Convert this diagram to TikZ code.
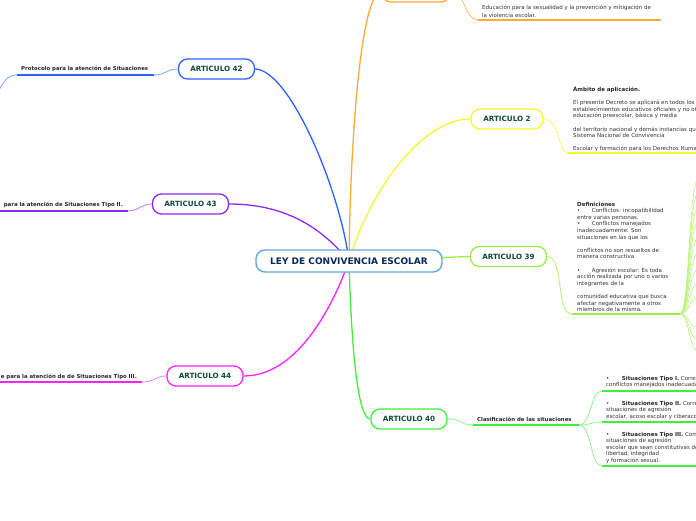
\documentclass[tikz,border=0pt]{standalone}
\usepackage{fontspec}
\newfontfamily\dv{DejaVu Sans}
\usetikzlibrary{backgrounds}
\definecolor{cblue}{HTML}{2E62FF}
\definecolor{cpurple}{HTML}{8A2BF5}
\definecolor{cmag}{HTML}{FF22FF}
\definecolor{cgreen}{HTML}{3CF03C}
\definecolor{clime}{HTML}{99EE44}
\definecolor{cyellow}{HTML}{F5F530}
\definecolor{corange}{HTML}{FFAA33}
\definecolor{cleyb}{HTML}{62A6DE}
\definecolor{artext}{HTML}{0E4A3A}
\definecolor{leytext}{HTML}{0B2755}
\definecolor{bodytext}{HTML}{333333}
\begin{document}
\begin{tikzpicture}[x=1pt,y=-1pt,
  artbox/.style={rounded corners=9pt, line width=1.3pt, fill=white, minimum width=76pt, minimum height=20pt, inner sep=0pt, font=\dv\bfseries\fontsize{7.2}{8}\selectfont, text=artext},
  branch/.style={line width=1.3pt},
  twig/.style={line width=0.9pt},
  uline/.style={line width=2.4pt},
  lbl/.style={font=\dv\bfseries\fontsize{5.4}{6.6}\selectfont, text=black!85, inner sep=0pt},
  txt/.style={font=\dv\fontsize{5.5}{6.6}\selectfont, text=bodytext, inner sep=0pt, align=left},
  fan/.style={line width=0.6pt, draw=clime!70}
]
\useasboundingbox (0,0) rectangle (696,520);
\begin{scope}
\clip (0,0) rectangle (696,520);
% central node
\node[draw=cleyb, rounded corners=9pt, line width=1.4pt, fill=white, minimum width=186pt, minimum height=22pt, inner sep=0pt, font=\dv\bfseries\fontsize{9}{10}\selectfont, text=leytext] (ley) at (349,261) {LEY DE CONVIVENCIA ESCOLAR};
% article boxes
\node[artbox, draw=cblue] (a42) at (216.5,69) {ARTICULO 42};
\node[artbox, draw=cpurple] (a43) at (190.5,204) {ARTICULO 43};
\node[artbox, draw=cmag] (a44) at (205,376) {ARTICULO 44};
\node[artbox, draw=cgreen] (a40) at (409,419) {ARTICULO 40};
\node[artbox, draw=clime] (a39) at (508.5,256.5) {ARTICULO 39};
\node[artbox, draw=cyellow, minimum width=72pt] (a2) at (507,119) {ARTICULO 2};
\node[artbox, draw=corange, minimum width=68pt] (aor) at (416,-8) {};
% coordinates
\coordinate (u42e) at (154,75);  \coordinate (u42w) at (17,75); \coordinate (u42x) at (-4,96);
\coordinate (u43e) at (128,211); \coordinate (u43w) at (-5,211);
\coordinate (u44e) at (142,382); \coordinate (u44w) at (-5,382);
\coordinate (u40w) at (473,425); \coordinate (u40e) at (579,425);
\coordinate (t1w) at (602,391); \coordinate (t1e) at (700,391);
\coordinate (t2w) at (602,422); \coordinate (t2e) at (700,422);
\coordinate (t3w) at (602,466); \coordinate (t3e) at (700,466);
\coordinate (u39w) at (572,314); \coordinate (u39e) at (680,314);
\coordinate (u2w) at (568,153); \coordinate (u2e) at (700,153);
\coordinate (uorw) at (478,20); \coordinate (uore) at (661,20);
% texts
\node[lbl, anchor=base west] (p42) at (21,70.5) {Protocolo para la atención de Situaciones};
\node[lbl, anchor=base east] (p43) at (123,206.5) {para la atención de Situaciones Tipo II.};
\node[lbl, anchor=base east] (p44) at (137,378.5) {e para la atención de de Situaciones Tipo III.};
\node[lbl, anchor=base west] (p40) at (477,421) {Clasificación de las situaciones};
\node[txt, anchor=north west] (tt1) at (606,375.2) {\strut•\hspace{12.5pt}\textbf{\color{black!85}Situaciones Tipo I.} Corresponden a este tipo los\\conflictos manejados inadecuadamente y aquellas};
\node[txt, anchor=north west] (tt2) at (606,400.2) {\strut•\hspace{12.5pt}\textbf{\color{black!85}Situaciones Tipo II.} Corresponden a este tipo las\\situaciones de agresión\\escolar, acoso escolar y ciberacoso (ciberbullying)};
\node[txt, anchor=north west] (tt3) at (606,431.2) {\strut•\hspace{12.5pt}\textbf{\color{black!85}Situaciones Tipo III.} Corresponden a este tipo las\\situaciones de agresión\\escolar que sean constitutivas de presuntos delitos contra la\\libertad, integridad\\y formación sexual.};
\node[txt, anchor=north west] (def) at (577,201.2) {\strut\textbf{\color{black!85}Definiciones}\\
•\hspace{11.5pt}Conflictos: incopatibilidad\\
entre varias personas.\\
•\hspace{11.5pt}Conflictos manejados\\
inadecuadamente: Son\\
situaciones en las que los\\
~\\
conflictos no son resueltos de\\
manera constructiva\\
~\\
•\hspace{11.5pt}Agresión escolar: Es toda\\
acción realizada por uno o varios\\
integrantes de la\\
~\\
comunidad educativa que busca\\
afectar negativamente a otros\\
miembros de la misma.};
\node[txt, anchor=north west] (amb) at (573,86.2) {\strut\textbf{\color{black!85}Ámbito de aplicación.}\\
~\\
El presente Decreto se aplicará en todos los\\
establecimientos educativos oficiales y no oficiales de\\
educación preescolar, básica y media\\
~\\
del territorio nacional y demás instancias que conforman el\\
Sistema Nacional de Convivencia\\
~\\
Escolar y formación para los Derechos Humanos, la};
\node[txt, anchor=north west, font=\dv\fontsize{5.5}{7.6}\selectfont] (edu) at (482,4.2) {\strut Educación para la sexualidad y la prevención y mitigación de\\la violencia escolar.};
\end{scope}
\begin{scope}[on background layer]
\clip (0,0) rectangle (696,520);
% main branches
\draw[branch, cblue] (a42.east) .. controls (290,70) and (340,190) .. (ley.center);
\draw[branch, cpurple] (a43.east) .. controls (290,204) and (325,232) .. (ley.center);
\draw[branch, cmag] (ley.center) .. controls (335,300) and (300,376) .. (a44.east);
\draw[branch, cgreen] (ley.center) .. controls (351,330) and (356,419) .. (a40.west);
\draw[branch, clime] (ley.center) -- (a39.west);
\draw[branch, cyellow] (ley.center) .. controls (368,195) and (420,119) .. (a2.west);
\draw[branch, corange] (ley.center) .. controls (350,150) and (360,-8) .. (aor.west);
% twigs
\draw[twig, cblue!55] (a42.west) .. controls (166,69) and (166,75) .. (u42e);
\draw[twig, cblue!55] (u42w) .. controls (8,75) and (4,80) .. (u42x);
\draw[twig, cpurple!55] (a43.west) .. controls (140,204) and (140,211) .. (u43e);
\draw[twig, cmag!55] (a44.west) .. controls (155,376) and (155,382) .. (u44e);
\draw[twig, cgreen!55] (a40.east) .. controls (462,419) and (460,425) .. (u40w);
\draw[twig, cgreen!55] (u40e) .. controls (592,425) and (590,391) .. (t1w);
\draw[twig, cgreen!55] (u40e) .. controls (592,425) and (590,422) .. (t2w);
\draw[twig, cgreen!55] (u40e) .. controls (592,425) and (590,466) .. (t3w);
\draw[twig, clime!70] (a39.east) .. controls (565,257) and (555,314) .. (u39w);
\draw[twig, cyellow!70] (a2.east) .. controls (560,119) and (558,153) .. (u2w);
\draw[twig, corange!70] (aor.east) .. controls (466,-8) and (464,20) .. (uorw);
% fan
\foreach \yy in {176,190,205,220,236,252,268,283,297,328,340,352}
  \draw[fan] (u39e) .. controls (690,314) and (688,\yy) .. (700,\yy);
% underlines
\draw[uline, cblue] (u42w) -- (u42e);
\draw[uline, cpurple] (u43w) -- (u43e);
\draw[uline, cmag] (u44w) -- (u44e);
\draw[uline, cgreen] (u40w) -- (u40e);
\draw[uline, cgreen] (t1w) -- (t1e);
\draw[uline, cgreen] (t2w) -- (t2e);
\draw[uline, cgreen] (t3w) -- (t3e);
\draw[line width=2pt, clime] (u39w) -- (u39e);
\draw[line width=2pt, cyellow] (u2w) -- (u2e);
\draw[line width=2pt, corange] (uorw) -- (uore);
\end{scope}
\end{tikzpicture}
\end{document}
